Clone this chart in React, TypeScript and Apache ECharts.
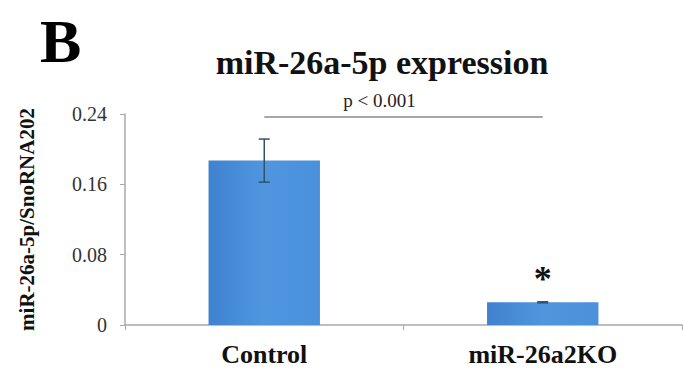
import React, { useEffect, useRef } from "react";
import * as echarts from "echarts";

const categories = ["Control", "miR-26a2KO"];
const means = [0.187, 0.0258];
const errors = [0.0245, 0.0006];
const significance = ["", "*"];
const yTicks = [0, 0.08, 0.16, 0.24];
const pValueLabel = "p < 0.001";
const pValueLevel = 0.237;
const panelLetter = "B";
const chartTitle = "miR-26a-5p expression";
const yAxisTitle = "miR-26a-5p/SnoRNA202";

const SERIF = "'Liberation Serif', 'Times New Roman', serif";

export default function App() {
  const ref = useRef<HTMLDivElement>(null);
  useEffect(() => {
    if (!ref.current) return;
    const chart = echarts.init(ref.current, undefined, { renderer: "svg" });
    const errData = categories.map((c, i) => [i, means[i] - errors[i], means[i] + errors[i], significance[i]]);
    chart.setOption({
      animation: false,
      backgroundColor: "#ffffff",
      title: {
        text: chartTitle,
        left: 377,
        top: 40,
        textAlign: "center",
        textStyle: { fontFamily: SERIF, fontWeight: "bold", fontSize: 34, color: "#111" },
      },
      graphic: [
        {
          type: "text",
          left: 40,
          top: 10,
          style: { text: panelLetter, fontFamily: SERIF, fontWeight: "bold", fontSize: 62, fill: "#000" },
        },
      ],
      grid: { left: 125, right: 2, top: 114, bottom: 46 },
      xAxis: {
        type: "category",
        data: categories,
        axisLine: { lineStyle: { color: "#a8a8a8", width: 1.5 } },
        axisTick: { show: true, length: 5, lineStyle: { color: "#a8a8a8" } },
        axisLabel: { fontFamily: SERIF, fontWeight: "bold", fontSize: 26, color: "#111", margin: 16 },
      },
      yAxis: {
        type: "value",
        min: 0,
        max: yTicks[yTicks.length - 1],
        interval: yTicks[1] - yTicks[0],
        name: yAxisTitle,
        nameLocation: "middle",
        nameRotate: 90,
        nameGap: 88,
        nameTextStyle: { fontFamily: SERIF, fontWeight: "bold", fontSize: 21, color: "#111" },
        axisLine: { show: true, lineStyle: { color: "#a8a8a8", width: 1.5 } },
        axisTick: { show: true, length: 5, lineStyle: { color: "#a8a8a8" } },
        splitLine: { show: false },
        axisLabel: {
          fontFamily: SERIF,
          fontSize: 20,
          color: "#333",
          margin: 18,
          formatter: (v: number) => (v === 0 ? "0" : v.toFixed(2)),
        },
      },
      series: [
        {
          type: "bar",
          data: means,
          barWidth: "40%",
          itemStyle: {
            color: new echarts.graphic.LinearGradient(0, 0, 1, 0, [
              { offset: 0, color: "#3f82cf" },
              { offset: 0.5, color: "#4f96df" },
              { offset: 1, color: "#4a90db" },
            ]),
          },
          markLine: {
            silent: true,
            symbol: "none",
            lineStyle: { color: "#8a8a8a", width: 1.5, type: "solid" },
            label: {
              show: true,
              position: "middle",
              formatter: pValueLabel,
              fontFamily: SERIF,
              fontSize: 19,
              color: "#222",
              offset: [-24, -2],
            },
            data: [[{ coord: [0, pValueLevel] }, { coord: [1, pValueLevel] }]],
          },
        },
        {
          type: "custom",
          data: errData,
          z: 5,
          renderItem: (params: any, api: any) => {
            const x = api.value(0);
            const lo = api.coord([x, api.value(1)]);
            const hi = api.coord([x, api.value(2)]);
            const mark = significance[params.dataIndex];
            const stroke = { stroke: "#34506f", lineWidth: 1.5 };
            const children: any[] = [
              { type: "line", shape: { x1: lo[0], y1: lo[1], x2: hi[0], y2: hi[1] }, style: stroke },
              { type: "line", shape: { x1: hi[0] - 5.5, y1: hi[1], x2: hi[0] + 5.5, y2: hi[1] }, style: stroke },
              { type: "line", shape: { x1: lo[0] - 5.5, y1: lo[1], x2: lo[0] + 5.5, y2: lo[1] }, style: stroke },
            ];
            if (mark) {
              children.push({
                type: "text",
                x: hi[0],
                y: hi[1] - 23,
                style: {
                  text: mark,
                  fontFamily: SERIF,
                  fontWeight: "bold",
                  fontSize: 36,
                  fill: "#111",
                  align: "center",
                  verticalAlign: "middle",
                },
              });
            }
            return { type: "group", children };
          },
        },
      ],
    });
    return () => chart.dispose();
  }, []);
  return <div ref={ref} style={{ position: "fixed", left: 0, top: 0, width: 684, height: 371 }} />;
}
